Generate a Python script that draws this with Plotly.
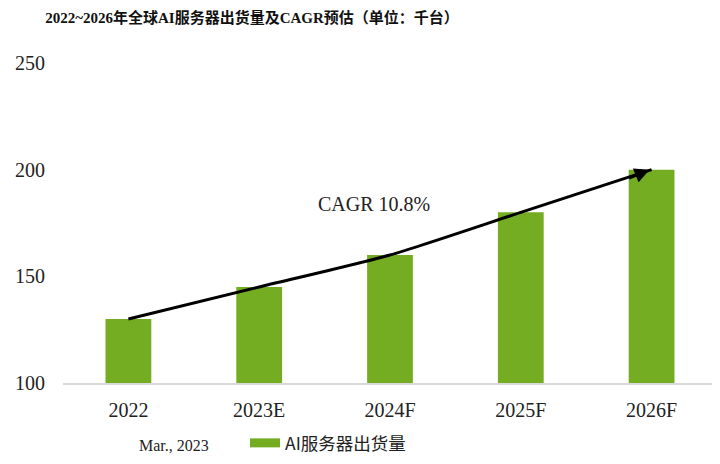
import plotly.graph_objects as go

categories = ["2022", "2023E", "2024F", "2025F", "2026F"]
shipments = [130, 145, 160, 180, 200]
y_ticks = [100, 150, 200, 250]
title_text = "2022~2026年全球AI服务器出货量及CAGR预估（单位：千台）"
series_name = "AI服务器出货量"
cagr_label = "CAGR 10.8%"
source_label = "Mar., 2023"

GREEN = "#74ad22"
SERIF = "Liberation Serif, Noto Sans CJK SC, serif"

fig = go.Figure()
fig.add_trace(go.Bar(
    x=categories, y=shipments, name=series_name,
    marker=dict(color=GREEN, line=dict(width=0)),
    showlegend=False,
))
# legend entry drawn as a wide green bar swatch
fig.add_trace(go.Scatter(
    x=[None], y=[None], mode="lines", name=series_name,
    line=dict(color=GREEN, width=9), showlegend=True,
))
# CAGR trend curve through bar tops
fig.add_trace(go.Scatter(
    x=categories, y=shipments, mode="lines",
    line=dict(color="black", width=3, shape="spline", smoothing=0.6),
    showlegend=False, hoverinfo="skip",
))
# arrow head at the end
fig.add_annotation(
    x=categories[-1], y=shipments[-1], xref="x", yref="y",
    ax=-22, ay=9, showarrow=True, arrowhead=2, arrowsize=1.0,
    arrowwidth=3, arrowcolor="black", text="",
    xshift=-2,
)
fig.add_annotation(
    x=1.88, y=184, xref="x", yref="y", text=cagr_label, showarrow=False,
    font=dict(family=SERIF, size=20, color="#222222"),
)
fig.add_annotation(
    x=(174-63)/654, y=-(62)/320, xref="paper", yref="paper",
    xanchor="center", yanchor="middle",
    text=source_label, showarrow=False,
    font=dict(family=SERIF, size=16, color="#222222"),
)

fig.update_layout(
    width=720, height=464,
    margin=dict(l=55, r=11, t=55, b=89),
    paper_bgcolor="white", plot_bgcolor="white",
    bargap=0.65,
    title=dict(
        text=f"<b>{title_text}</b>", x=(252-8)/720, xanchor="center", xref="container",
        y=1-(18-8)/464, yanchor="middle", yref="container",
        font=dict(family=SERIF, size=15, color="#111111"),
    ),
    xaxis=dict(
        type="category", showgrid=False, zeroline=False,
        showline=True, linecolor="#d9d9d9", linewidth=1.5,
        ticks="", tickfont=dict(family=SERIF, size=20, color="#222222"),
        ticklabelstandoff=8, automargin=False,
    ),
    yaxis=dict(
        range=[100, 250], tickvals=y_ticks, showgrid=False, zeroline=False,
        showline=False, ticks="",
        tickfont=dict(family=SERIF, size=20, color="#222222"),
        ticklabelstandoff=17, automargin=False,
    ),
    legend=dict(
        orientation="h", x=(245-63)/654, xanchor="left",
        y=-(60)/320, yanchor="middle",
        font=dict(family="Noto Sans CJK SC, sans-serif", size=17.5, color="#222222"),
        bgcolor="rgba(0,0,0,0)",
    ),
)
fig.write_html("out.html")
